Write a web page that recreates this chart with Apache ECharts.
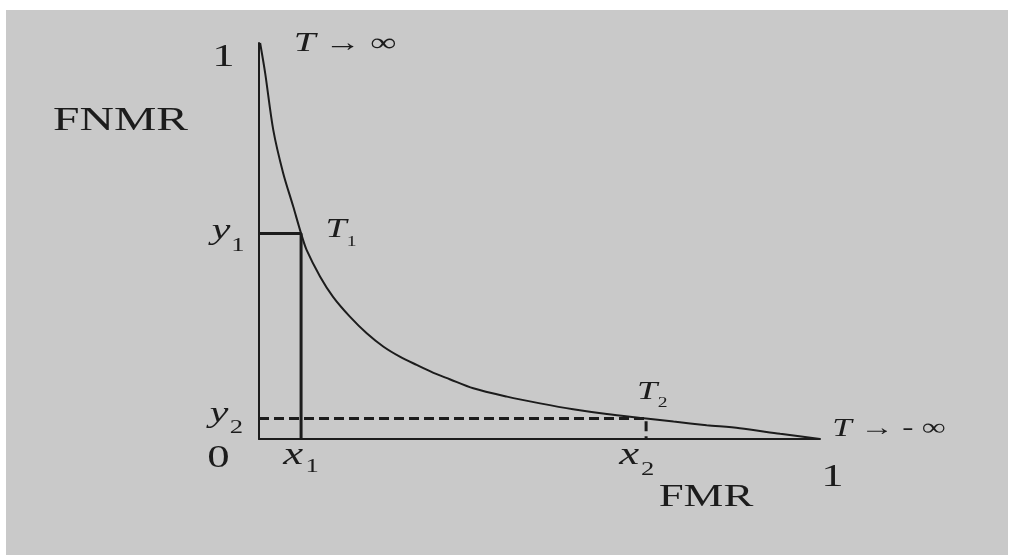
<!DOCTYPE html>
<html><head><meta charset="utf-8">
<script src="https://cdn.jsdelivr.net/npm/echarts@6/dist/echarts.min.js"></script>
<style>
html,body{margin:0;padding:0;background:#ffffff;}
#bg{position:absolute;left:6px;top:10px;width:1002px;height:545px;background:#c9c9c9;}
#c{position:absolute;left:0;top:0;width:1010px;height:555px;}
</style></head><body><div id="bg"></div><div id="c"></div>
<script>
// FMR (x) and FNMR (y) of the error trade-off curve
const fmr  = [0.002, 0.011, 0.0255, 0.043, 0.061, 0.075, 0.085, 0.109, 0.132, 0.162, 0.192, 0.222, 0.251, 0.281, 0.311, 0.340, 0.382, 0.442, 0.501, 0.560, 0.620, 0.690, 0.739, 0.798, 0.857, 0.929, 1.0];
const fnmr = [1.000, 0.924, 0.780, 0.672, 0.587, 0.519, 0.477, 0.410, 0.359, 0.309, 0.267, 0.233, 0.208, 0.187, 0.167, 0.151, 0.128, 0.107, 0.090, 0.075, 0.063, 0.052, 0.044, 0.035, 0.027, 0.013, 0.0];
// operating points T1 and T2: [FMR, FNMR]
const t1 = [0.075, 0.519];
const t2 = [0.690, 0.052];
// label texts
const axisNames = { y: 'FNMR', x: 'FMR' };
const tickTexts = { zero: '0', one: '1' };
const limitTexts = { top: ' \u2192 \u221e', right: ' \u2192 - \u221e' };

const ink = '#1c1c1c';
const serif = '"Liberation Serif","DejaVu Serif",serif';

const chart = echarts.init(document.getElementById('c'), null, { renderer: 'canvas' });
const axisCommon = {
  type: 'value', min: 0, max: 1,
  axisLine: { show: true, lineStyle: { color: ink, width: 2 } },
  axisTick: { show: false }, axisLabel: { show: false }, splitLine: { show: false }
};
chart.setOption({
  animation: false,
  backgroundColor: 'transparent',
  grid: { left: 259, right: 190, top: 43, bottom: 116 },
  xAxis: Object.assign({}, axisCommon),
  yAxis: Object.assign({}, axisCommon),
  series: [
    { type: 'line', data: fmr.map((v, i) => [v, fnmr[i]]), symbol: 'none', smooth: 0.3,
      lineStyle: { color: ink, width: 2 }, z: 3 },
    { type: 'line', data: [[0, t1[1]], [t1[0], t1[1]], [t1[0], 0]], symbol: 'none',
      lineStyle: { color: ink, width: 3 }, z: 2 },
    { type: 'line', data: [[0, t2[1]], [t2[0], t2[1]], [t2[0], 0]], symbol: 'none',
      lineStyle: { color: ink, width: 3, type: [10, 5] }, z: 2 }
  ]
});

function px(p) { return chart.convertToPixel({ gridIndex: 0 }, p); }
const SX = 1.4;
function txt(anchor, dx, dy, text, size, italic) {
  const p = px(anchor);
  return { type: 'text', x: p[0] + dx, y: p[1] + dy, scaleX: SX, silent: true,
    style: { text: text, fill: ink, fontFamily: serif, fontSize: size,
      fontStyle: italic ? 'italic' : 'normal', align: 'center', verticalAlign: 'middle' } };
}
function limit(anchor, dx, dy, rest, size, size2) {
  const p = px(anchor);
  return { type: 'text', x: p[0] + dx, y: p[1] + dy, scaleX: SX, silent: true,
    style: { text: '{t|T}{a|' + rest + '}', align: 'center', verticalAlign: 'middle',
      rich: { t: { fill: ink, fontFamily: serif, fontSize: size, fontStyle: 'italic' },
              a: { fill: ink, fontFamily: serif, fontSize: size2 } } } };
}
const o = [0, 0], yTop = [0, 1], xEnd = [1, 0];
const g = [
  txt(yTop, -35.5, 14.5, tickTexts.one, 32, false),
  txt(yTop, -138.5, 78.5, axisNames.y, 34, false),
  limit(yTop, 86, 1, limitTexts.top, 28, 26),
  txt(o, -40.5, 20, tickTexts.zero, 32, false),
  txt(xEnd, 12.5, 38.5, tickTexts.one, 32, false),
  txt(xEnd, -114, 58.5, axisNames.x, 32, false),
  limit(xEnd, 69, -10, limitTexts.right, 25, 24),
  // y1, y2
  txt([0, t1[1]], -38, -2, 'y', 30, true), txt([0, t1[1]], -21, 13, '1', 19, false),
  txt([0, t2[1]], -40, -4, 'y', 30, true), txt([0, t2[1]], -22.5, 9.5, '2', 19, false),
  // x1, x2
  txt([t1[0], 0], -8, 17, 'x', 32, true), txt([t1[0], 0], 11, 28, '1', 19, false),
  txt([t2[0], 0], -17, 17, 'x', 32, true), txt([t2[0], 0], 1.5, 31.5, '2', 19, false),
  // T1, T2
  txt(t1, 35, -4, 'T', 27, true), txt(t1, 50.5, 9, '1', 14, false),
  txt(t2, 1, -26.5, 'T', 26, true), txt(t2, 16.5, -15, '2', 14, false)
];
chart.setOption({ graphic: g });
</script></body></html>
